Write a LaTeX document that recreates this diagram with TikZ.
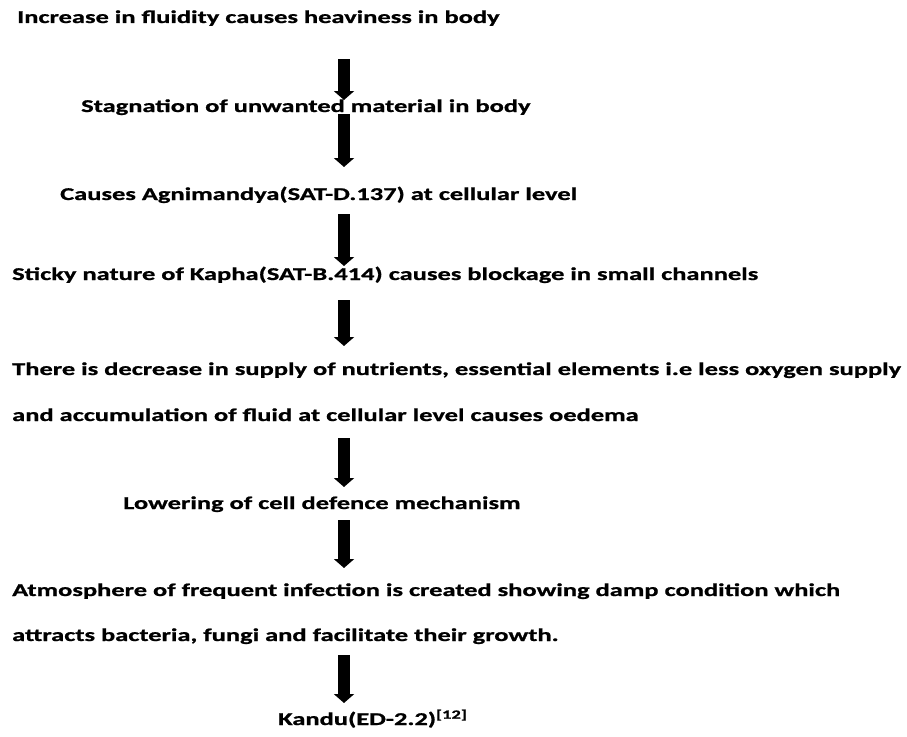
\documentclass[tikz,border=0pt]{standalone}
\usepackage{fontspec}
\setmainfont{Carlito}[FakeStretch=1.47, FakeBold=1]
\usepackage{tikz}
\usetikzlibrary{arrows.meta}

\begin{document}
\begin{tikzpicture}[x=1pt, y=-1pt,
    txt/.style = {anchor=base west, inner sep=0pt, font=\fontsize{18}{22}\selectfont\bfseries},
    flow/.style = {line width=12pt, -{Triangle[width=20pt, length=9pt]}}]
    \useasboundingbox (0,0) rectangle (907,736);
    \coordinate (ax) at (344,0);

    \node[txt] (fluid)   at (17,23)   {Increase in fluidity causes heaviness in body};
    \node[txt] (stag)    at (81,112)  {Stagnation of unwanted material in body};
    \node[txt] (agni)    at (60,200)  {Causes Agnimandya(SAT-D.137) at cellular level};
    \node[txt] (kapha)   at (12,280)  {Sticky nature of Kapha(SAT-B.414) causes blockage in small channels};
    \node[txt] (supply)  at (12,375)  {There is decrease in supply of nutrients, essential elements i.e less oxygen supply};
    \node[txt] (oedema)  at (12,421)  {and accumulation of fluid at cellular level causes oedema};
    \node[txt] (defence) at (123,509) {Lowering of cell defence mechanism};
    \node[txt] (atmos)   at (12,596)  {Atmosphere of frequent infection is created showing damp condition which};
    \node[txt] (growth)  at (12,641)  {attracts bacteria, fungi and facilitate their growth.};
    \node[txt] (kandu)   at (278,725) {Kandu(ED-2.2)\textsuperscript{[12]}};

    \draw[flow, shorten <=36pt, shorten >=12pt] (fluid.base -| ax) -- (stag.base -| ax);
    \draw[flow, shorten <=2pt, shorten >=33pt] (stag.base -| ax) -- (agni.base -| ax);
    \draw[flow, shorten <=14pt, shorten >=14pt] (agni.base -| ax) -- (kapha.base -| ax);
    \draw[flow, shorten <=20pt, shorten >=29pt] (kapha.base -| ax) -- (supply.base -| ax);
    \draw[flow, shorten <=17pt, shorten >=22pt] (oedema.base -| ax) -- (defence.base -| ax);
    \draw[flow, shorten <=11pt, shorten >=28pt] (defence.base -| ax) -- (atmos.base -| ax);
    \draw[flow, shorten <=14pt, shorten >=22pt] (growth.base -| ax) -- (kandu.base -| ax);
\end{tikzpicture}
\end{document}
